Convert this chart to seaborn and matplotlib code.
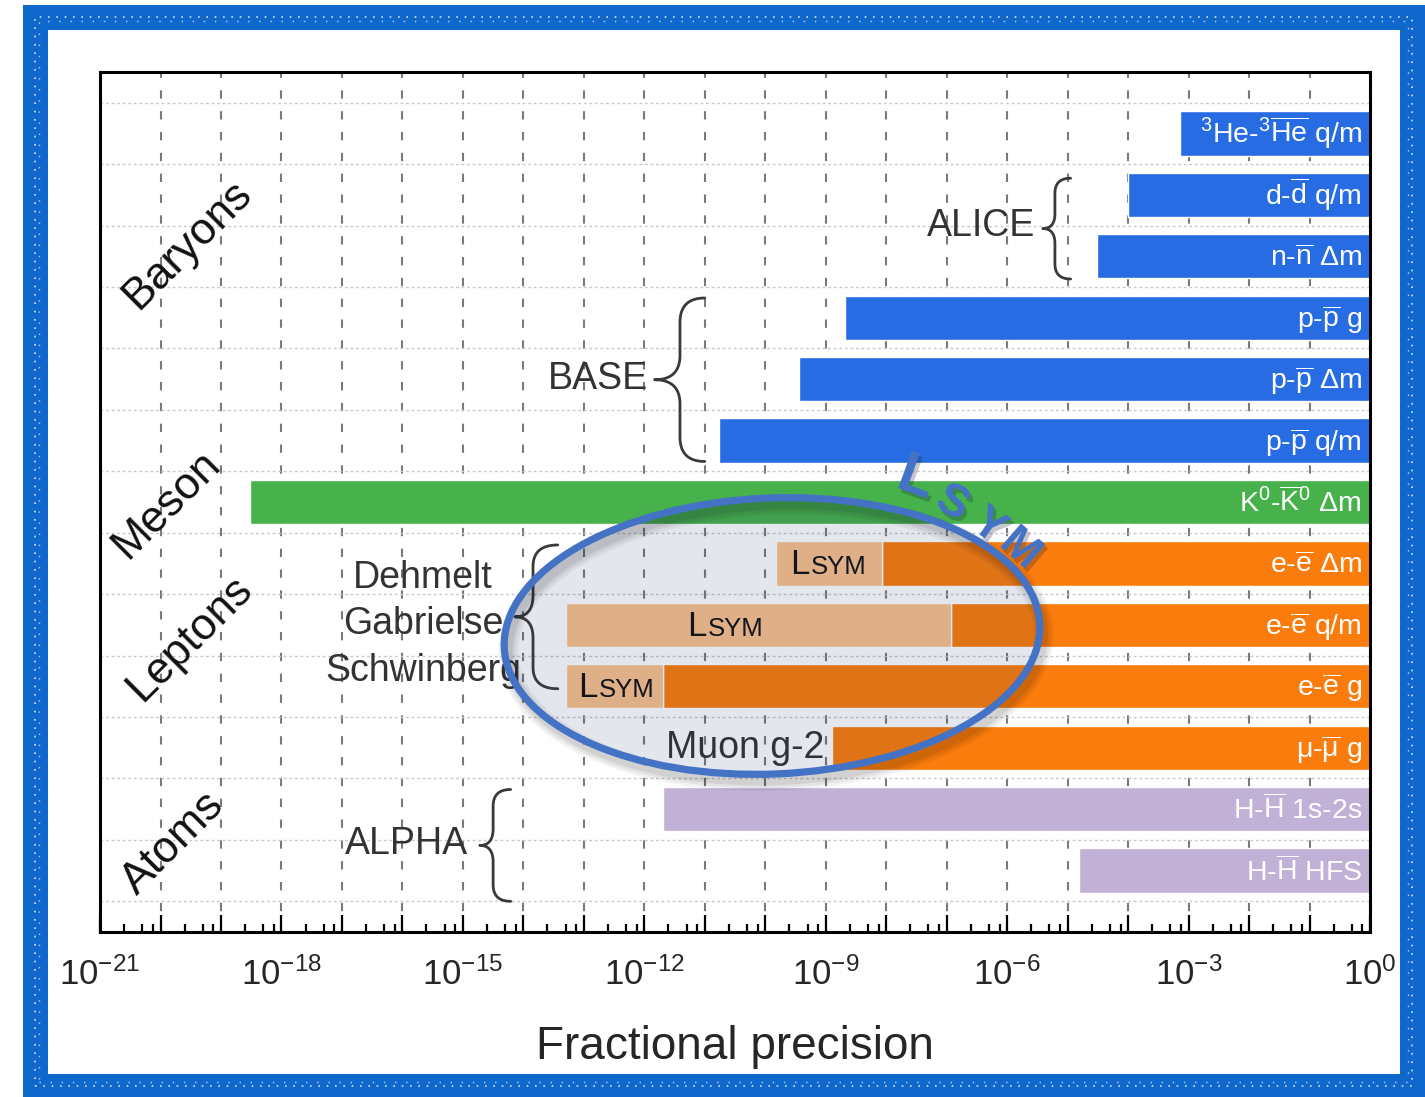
import numpy as np
import matplotlib
matplotlib.use("Agg")
import matplotlib.pyplot as plt
import matplotlib.ticker as mticker
import matplotlib.patheffects as pe
from matplotlib.patches import Ellipse, Rectangle
from matplotlib.offsetbox import TextArea, HPacker, AnnotationBbox
from matplotlib.transforms import Affine2D
import seaborn as sns

sns.set_style("white")
plt.rcParams["font.family"] = ["Liberation Sans", "DejaVu Sans"]
plt.rcParams["mathtext.fontset"] = "custom"
plt.rcParams["mathtext.rm"] = "Liberation Sans"
plt.rcParams["mathtext.it"] = "Liberation Sans:italic"
plt.rcParams["mathtext.bf"] = "Liberation Sans:bold"

# rows, top to bottom
labels = [
    r"$^{3}$He-$^{3}\overline{\mathrm{He}}$ q/m",
    r"d-$\overline{\mathrm{d}}$ q/m",
    r"n-$\overline{\mathrm{n}}$ Δm",
    r"p-$\overline{\mathrm{p}}$ g",
    r"p-$\overline{\mathrm{p}}$ Δm",
    r"p-$\overline{\mathrm{p}}$ q/m",
    r"K$^{0}$-$\overline{\mathrm{K}}^{0}$ Δm",
    r"e-$\overline{\mathrm{e}}$ Δm",
    r"e-$\overline{\mathrm{e}}$ q/m",
    r"e-$\overline{\mathrm{e}}$ g",
    r"$\mathrm{\mu}$-$\overline{\mathrm{\mu}}$ g",
    r"H-$\overline{\mathrm{H}}$ 1s-2s",
    r"H-$\overline{\mathrm{H}}$ HFS",
]
groups = ["Baryons"] * 6 + ["Meson"] + ["Leptons"] * 4 + ["Atoms"] * 2
precision = [7.2e-4, 1.0e-4, 3.1e-5, 2.1e-9, 3.6e-10, 1.7e-11, 3.0e-19,
             8.5e-9, 1.2e-7, 2.0e-12, 1.26e-9, 2.0e-12, 1.55e-5]
lsym_reach = [None] * 7 + [1.5e-10, 5.0e-14, 5.0e-14] + [None] * 3
lsym_label_x = [None] * 7 + [1.1e-9, 2.2e-11, 3.5e-13] + [None] * 3

palette = {"Baryons": "#276CE2", "Meson": "#47B14B",
           "Leptons": "#FA7C0C", "Atoms": "#C1B1D6"}
peach = "#FAC18D"

categories = ["Baryons", "Meson", "Leptons", "Atoms"]
category_pos = [(10**-19.55, 1.82), (10**-19.9, 6.04), (10**-19.52, 8.23), (10**-19.78, 11.56)]

tick_exp = np.arange(-21, 1)

fig = plt.figure(figsize=(14.25, 10.97), dpi=100)
ax = fig.add_axes([0.0702, 0.1504, 0.8912, 0.7840])

rows = np.arange(len(labels))
for i in rows:
    lim = precision[i]
    ax.barh(i, 1 - lim, left=lim, height=0.72, color=palette[groups[i]], zorder=2)
    if lsym_reach[i] is not None:
        ax.barh(i, lim - lsym_reach[i], left=lsym_reach[i], height=0.72, color=peach, zorder=2)
    ax.annotate(labels[i], xy=(1, i), xytext=(-8, -10), textcoords="offset pixels",
                ha="right", va="baseline", color="white", fontsize=20.5, zorder=3)

ax.set_xscale("log")
ax.set_xlim(1e-21, 1)
ax.set_ylim(13, -1)

ax.xaxis.set_major_locator(mticker.FixedLocator(10.0 ** tick_exp))
ax.xaxis.set_major_formatter(mticker.FuncFormatter(
    lambda v, p: r"$10^{%d}$" % round(np.log10(v)) if round(np.log10(v)) % 3 == 0 else ""))
ax.xaxis.set_minor_locator(mticker.LogLocator(base=10, subs=[2.5, 5, 7.5], numticks=40))
ax.xaxis.set_minor_formatter(mticker.NullFormatter())
ax.tick_params(axis="x", which="major", direction="in", length=12, width=1.6,
               labelsize=25, pad=18, top=False, bottom=True, color="black")
ax.tick_params(axis="x", which="minor", direction="in", length=6, width=1.6,
               top=False, bottom=True, color="black")

ax.set_yticks([])
ax.set_yticks(np.arange(-0.5, 13, 1), minor=True)
ax.tick_params(axis="y", which="both", length=0)
ax.set_axisbelow(True)
ax.xaxis.grid(True, which="major", linestyle=(0, (4, 6)), linewidth=1.5, color="#7a7a7a")
ax.yaxis.grid(True, which="minor", linestyle=(0, (2, 2)), linewidth=1, color="#c8c8c8")
for s in ax.spines.values():
    s.set_linewidth(2.2)
    s.set_color("black")
ax.set_xlabel("Fractional precision", fontsize=33, labelpad=24)

# category labels
for name, (cx, cy) in zip(categories, category_pos):
    ax.text(cx, cy, name, rotation=45, ha="center", va="center", fontsize=32,
            color="#111111", rotation_mode="anchor")


def brace(x_tip, x_body, x_end, y0, y1):
    ym = (y0 + y1) / 2
    r = 0.3 * (ym - y0)
    t = np.linspace(0, 1, 30)[:, None]

    def bez(p0, p1, p2):
        p0, p1, p2 = map(np.array, (p0, p1, p2))
        return (1 - t) ** 2 * p0 + 2 * (1 - t) * t * p1 + t ** 2 * p2

    top = np.vstack([bez((x_end, y0), (x_body, y0), (x_body, y0 + r)),
                     bez((x_body, ym - r), (x_body, ym), (x_tip, ym))])
    bot = top[::-1].copy()
    bot[:, 1] = 2 * ym - bot[:, 1]
    pts = np.vstack([top, bot])
    ax.plot(10 ** pts[:, 0], pts[:, 1], color="#3a3a3a", lw=2, zorder=4,
            solid_capstyle="round")


note = dict(fontsize=27, color="#333333", zorder=4)
ax.text(10**-5.54, 1.5, "ALICE", ha="right", va="center", **note)
brace(-5.41, -5.21, -4.95, 0.73, 2.37)
ax.text(10**-11.94, 4.0, "BASE", ha="right", va="center", **note)
brace(-11.83, -11.41, -11.0, 2.68, 5.34)
for txt, yy in zip(["Dehmelt", "Gabrielse", "Schwinberg"], [7.24, 7.99, 8.75]):
    ax.text(10**-15.66, yy, txt, ha="center", va="center", **note)
brace(-14.14, -13.84, -13.43, 6.70, 9.04)
ax.text(10**-14.92, 11.57, "ALPHA", ha="right", va="center", **note)
brace(-14.72, -14.50, -14.21, 10.68, 12.5)
ax.text(10**-9.03, 10.0, "Muon g-2", ha="right", va="center", **note)

# small-caps LSYM inside the bars
for i in rows:
    if lsym_label_x[i] is None:
        continue
    box = HPacker(children=[TextArea("L", textprops=dict(fontsize=25, color="#111111")),
                            TextArea("SYM", textprops=dict(fontsize=18.5, color="#111111"))],
                  align="baseline", pad=0, sep=1)
    ab = AnnotationBbox(box, (lsym_label_x[i], i + 0.02), frameon=False,
                        box_alignment=(0.5, 0.5), zorder=4)
    ax.add_artist(ab)

# LSYM ellipse with soft shadow
for lw, a in [(14, 0.05), (10, 0.06), (6, 0.08)]:
    sh = Ellipse((7.72, 4.61), 5.36, 2.76, angle=2.5, facecolor="none",
                 edgecolor=(0, 0, 0, a), lw=lw,
                 transform=fig.dpi_scale_trans + Affine2D().translate(4, -7),
                 clip_on=False, zorder=5)
    ax.add_patch(sh)
ell = Ellipse((7.72, 4.61), 5.36, 2.76, angle=2.5, facecolor=(0.12, 0.2, 0.4, 0.12),
              edgecolor="#4472C4", lw=5.2, transform=fig.dpi_scale_trans,
              clip_on=False, zorder=6)
ax.add_patch(ell)

shadow = [pe.withSimplePatchShadow(offset=(2, -3), alpha=0.25)]
for ch, lx, ly, rot, fs in [("L", -7.50, 5.62, -20, 42), ("S", -6.90, 6.02, -28, 33),
                             ("Y", -6.30, 6.40, -35, 33), ("M", -5.78, 6.76, -41, 33)]:
    ax.text(10**lx, ly, ch, rotation=rot, rotation_mode="anchor", ha="center",
            va="center", fontsize=fs, fontweight="bold", color="#4472C4",
            zorder=7, path_effects=shadow)

# crayon-like blue frame
frame = dict(fill=False, transform=fig.transFigure)
fig.add_artist(Rectangle((0.0246, 0.0100), 0.9663, 0.9745, edgecolor="#1168CC", lw=18, **frame))
fig.add_artist(Rectangle((0.0246, 0.0100), 0.9663, 0.9745, edgecolor="white", lw=1.2,
                         linestyle=(0, (1, 4)), alpha=0.8, **frame))
fig.add_artist(Rectangle((0.0276, 0.0140), 0.9603, 0.9665, edgecolor="white", lw=1.0,
                         linestyle=(0, (1, 7)), alpha=0.7, **frame))

fig.savefig("out.png", dpi=100)
